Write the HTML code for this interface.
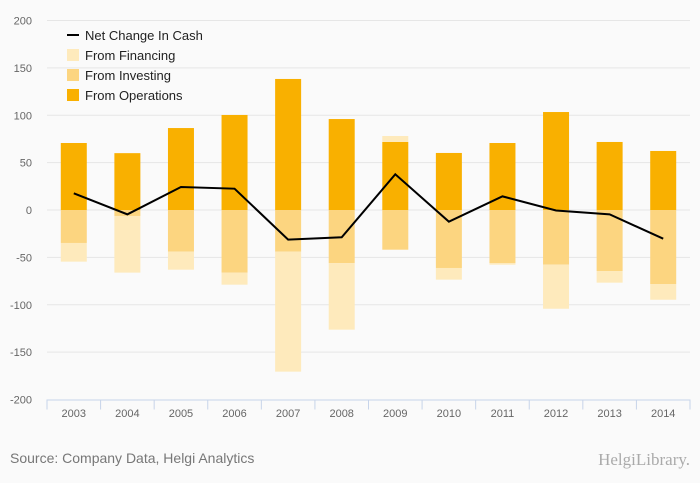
<!DOCTYPE html>
<html><head><meta charset="utf-8"><style>
html,body{margin:0;padding:0;background:#fafafa;}
svg{display:block;font-family:"Liberation Sans","DejaVu Sans",sans-serif;}
</style></head><body>
<svg id="chart" width="700" height="483" viewBox="0 0 700 483">
<rect width="700" height="483" fill="#fafafa"/>
<g id="grid"></g><g id="bars"></g><g id="line"></g><g id="axes"></g>
<g font-size="13" fill="#222">
 <line x1="67" y1="35" x2="79" y2="35" stroke="#000" stroke-width="2"/>
 <text x="85" y="40">Net Change In Cash</text>
 <rect x="67" y="49" width="12" height="12" fill="#feeabc"/>
 <text x="85" y="60">From Financing</text>
 <rect x="67" y="69" width="12" height="12" fill="#fcd580"/>
 <text x="85" y="80">From Investing</text>
 <rect x="67" y="89" width="12" height="12" fill="#f9b000"/>
 <text x="85" y="100">From Operations</text>
</g>
<text x="10" y="463" font-size="14" fill="#777">Source: Company Data, Helgi Analytics</text>
<text x="690" y="465" font-size="17" fill="#aaa" text-anchor="end" font-family="Liberation Serif,serif">HelgiLibrary.</text>
</svg>
<script>
const years=["2003","2004","2005","2006","2007","2008","2009","2010","2011","2012","2013","2014"];
const operations=[70.7,60,86.5,100.3,138.3,96,71.8,60.2,70.7,103.4,71.8,62.3];
const investing=[-34.8,-6.3,-44,-66.2,-44,-56,-41.9,-61.2,-56,-57.7,-64.4,-78.1];
const financing=[-19.7,-59.8,-19,-12.6,-126.6,-70.3,6.3,-12.3,-1.7,-46.5,-12.3,-16.6];
const netChange=[17.6,-4.6,24.3,22.5,-31.3,-28.8,37.7,-12.3,14.4,-0.5,-4.6,-30.3];
const yTicks=[200,150,100,50,0,-50,-100,-150,-200];

const NS="http://www.w3.org/2000/svg";
const L=47,R=690,Y0=210,K=0.9475;
const bw=(R-L)/years.length, barW=26;
const y=v=>Y0-v*K;
const xc=i=>L+bw*(i+0.5);
function mk(tag,attrs,parent){const e=document.createElementNS(NS,tag);for(const k in attrs)e.setAttribute(k,attrs[k]);document.getElementById(parent).appendChild(e);return e;}

yTicks.forEach(t=>{
  if(t>-200){const g=mk('line',{x1:L,x2:R,y1:y(t),y2:y(t),stroke:'#e6e6e6','stroke-width':1},'grid');
  
  }
  const tx=mk('text',{x:32,y:y(t)+4,'font-size':11,fill:'#666','text-anchor':'end'},'axes');
  tx.textContent=t;
  
  
});
const ax=mk('line',{x1:L,x2:R,y1:y(-200)+0.5,y2:y(-200)+0.5,stroke:'#c7d4ea','stroke-width':1},'axes');


for(let i=0;i<=years.length;i++){
  const tk=mk('line',{x1:L+bw*i,x2:L+bw*i,y1:y(-200),y2:y(-200)+10,stroke:'#c7d4ea'},'axes');
  
  
}
years.forEach((yr,i)=>{
  const t=mk('text',{x:xc(i),y:417,'font-size':11,fill:'#666','text-anchor':'middle'},'axes');
  t.textContent=yr;
  
  
  let pos=0,neg=0;
  const seg=(v,color,name)=>{
    let a,b;
    if(v>=0){a=pos;b=pos+v;pos=b;}else{a=neg;b=neg+v;neg=b;}
    const top=y(Math.max(a,b)),bot=y(Math.min(a,b));
    const r=mk('rect',{x:xc(i)-barW/2,y:top,width:barW,height:Math.max(0,bot-top),fill:color},'bars');
    
    
  };
  seg(operations[i],'#f9b000','bar-operations-'+yr);
  seg(investing[i],'#fcd580','bar-investing-'+yr);
  seg(financing[i],'#feeabc','bar-financing-'+yr);
});
const pl=mk('polyline',{points:netChange.map((v,i)=>xc(i)+','+y(v)).join(' '),fill:'none',stroke:'#000','stroke-width':2},'line');


</script>
</body></html>
